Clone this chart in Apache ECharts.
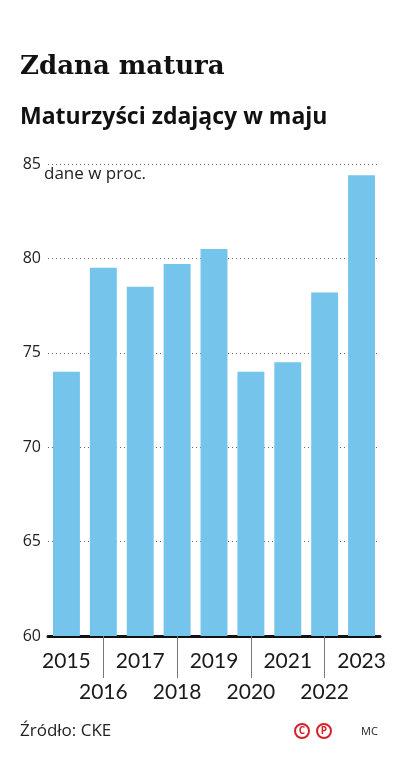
<!DOCTYPE html>
<html><head><meta charset="utf-8">
<script src="https://cdn.jsdelivr.net/npm/echarts@6/dist/echarts.min.js"></script>
<style>html,body{margin:0;padding:0;background:#fff}#c{width:397px;height:760px}</style>
</head><body><div id="c"></div>
<script>
const years = ['2015','2016','2017','2018','2019','2020','2021','2022','2023'];
const passRate = [74.0, 79.5, 78.5, 79.7, 80.5, 74.0, 74.5, 78.2, 84.4];
const yTicks = [60, 65, 70, 75, 80, 85];

const chart = echarts.init(document.getElementById('c'), null, {renderer:'canvas'});
chart.setOption({
  animation:false,
  backgroundColor:'#fff',
  grid:{left:48, right:17, top:164, bottom:124, containLabel:false},
  xAxis:{
    type:'category', data:years,
    axisLine:{show:true, lineStyle:{color:'#111', width:3}},
    axisTick:{show:true, alignWithLabel:true, length:42,
      interval:function(i){return i%2===1;},
      lineStyle:{color:'#777', width:1}},
    axisLabel:{interval:0, margin:10, color:'#1a1a1a', fontFamily:'Lato', fontSize:21, fontWeight:400,
      lineHeight:31,
      formatter:function(v,i){return i%2===1 ? '\n'+v : v;}}
  },
  yAxis:{
    type:'value', min:yTicks[0], max:yTicks[yTicks.length-1], interval:5,
    axisLine:{show:false}, axisTick:{show:false},
    axisLabel:{margin:7, color:'#222', fontFamily:'Open Sans', fontSize:16},
    splitLine:{show:true, lineStyle:{color:'#666', type:[1,3], width:1}}
  },
  series:[{type:'bar', data:passRate, barCategoryGap:'27%',
    itemStyle:{color:'#74C4EC'}}],
  graphic:[
    {type:'text', left:20, top:54, style:{text:'Zdana matura', font:'bold 26px "DejaVu Serif"', fill:'#111'}},
    {type:'text', left:20, top:106, style:{text:'Maturzyści zdający w maju', font:'bold 23px "Open Sans"', fill:'#111'}},
    {type:'text', left:44, top:166, style:{text:'dane w proc.', font:'17px "Open Sans"', fill:'#222'}},
    {type:'text', left:20, top:723, style:{text:'Źródło: CKE', font:'17px "Open Sans"', fill:'#222'}},
    {type:'text', left:361, top:726, style:{text:'MC', font:'11px "Open Sans"', fill:'#222'}},
    {type:'circle', shape:{cx:302, cy:731, r:7}, style:{fill:'none', stroke:'#d6202a', lineWidth:2}},
    {type:'text', x:302, y:731, style:{text:'C', font:'bold 10px "Open Sans"', fill:'#d6202a', align:'center', verticalAlign:'middle'}},
    {type:'circle', shape:{cx:324, cy:731, r:7}, style:{fill:'none', stroke:'#d6202a', lineWidth:2}},
    {type:'text', x:324, y:731, style:{text:'P', font:'bold 10px "Open Sans"', fill:'#d6202a', align:'center', verticalAlign:'middle'}}
  ]
});
</script></body></html>
